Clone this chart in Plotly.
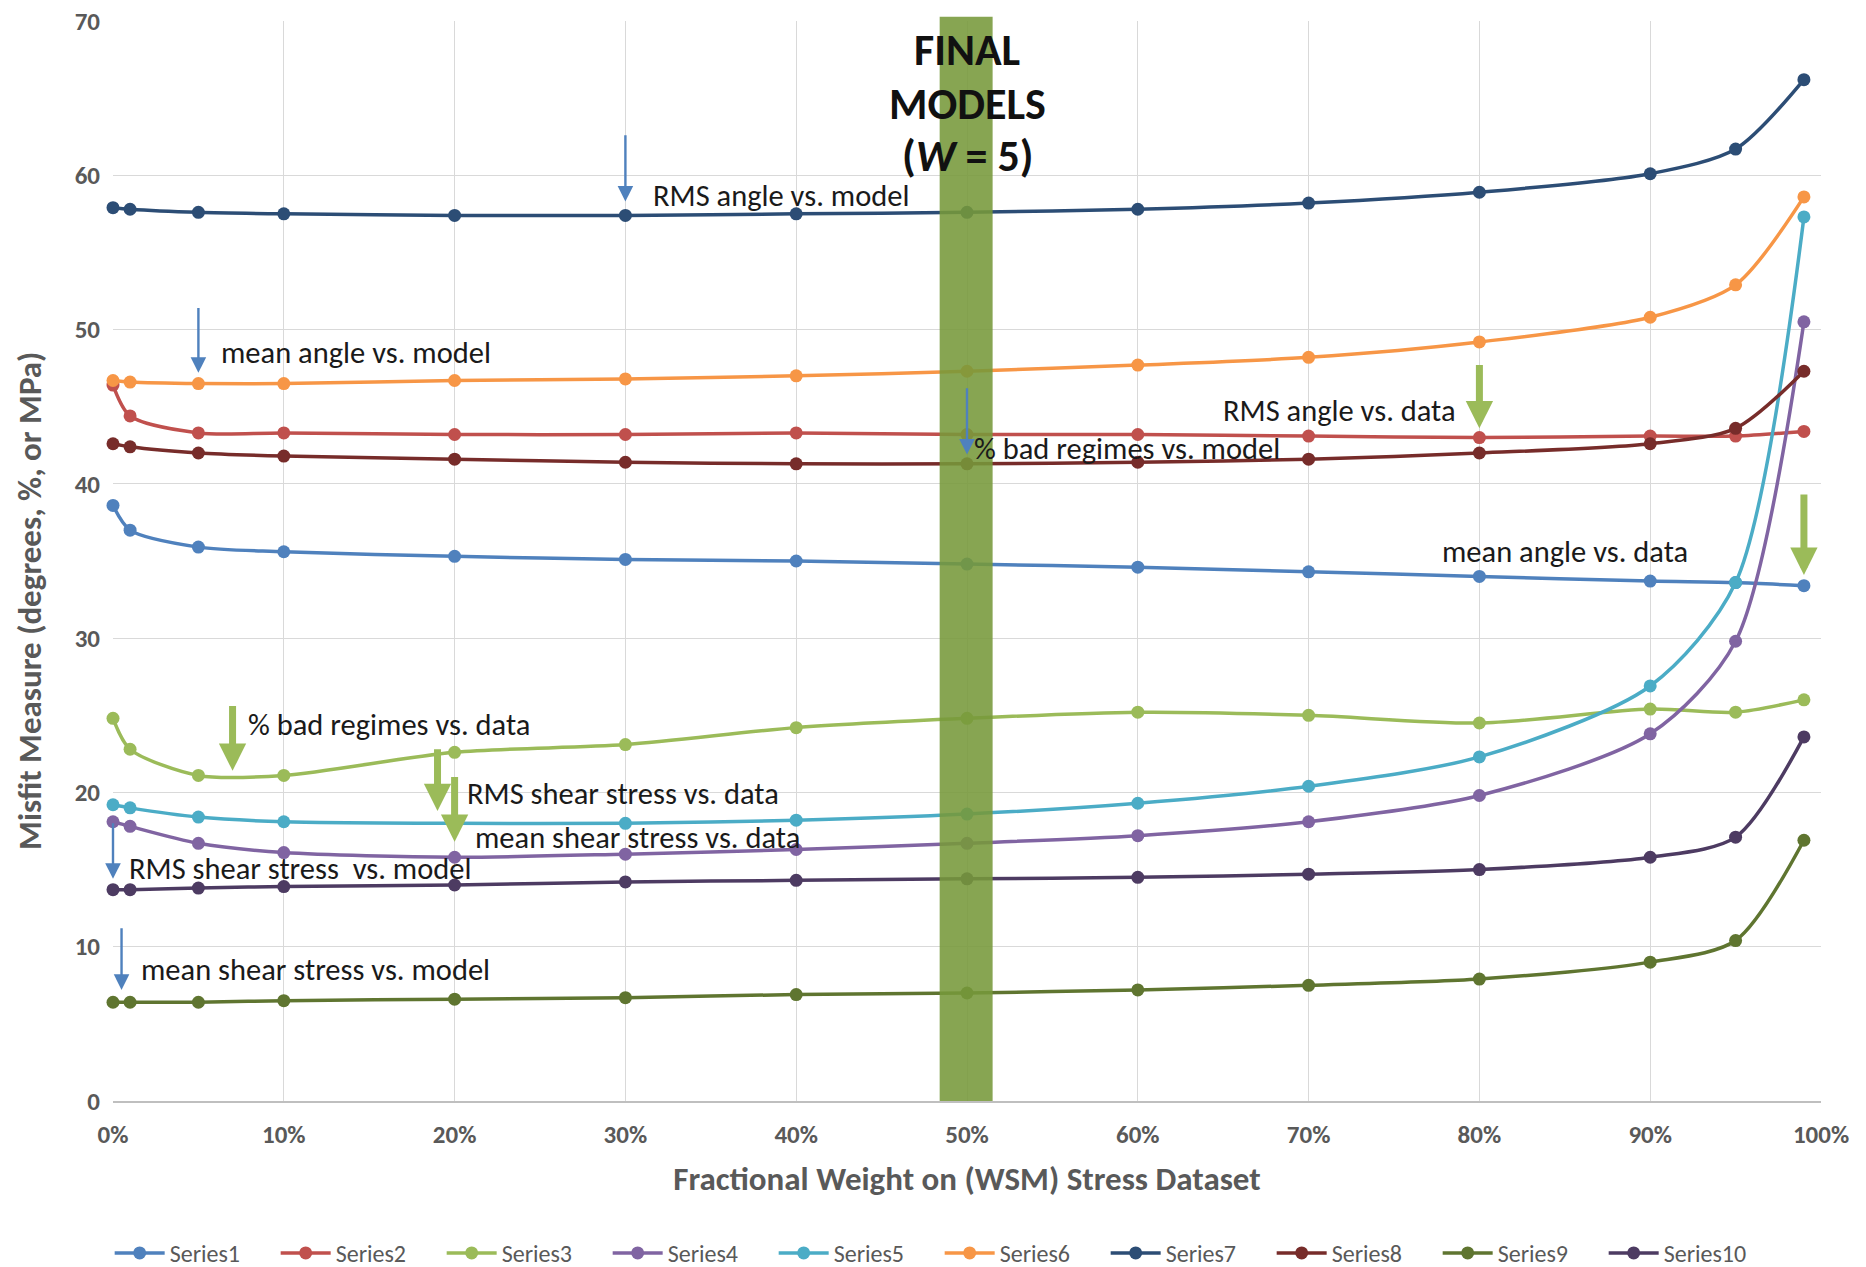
import plotly.graph_objects as go

# Fractional weight on the WSM stress dataset
weights = [0.0, 0.01, 0.05, 0.10, 0.20, 0.30, 0.40, 0.50, 0.60, 0.70, 0.80, 0.90, 0.95, 0.99]

series1 = [38.6, 37.0, 35.9, 35.6, 35.3, 35.1, 35.0, 34.8, 34.6, 34.3, 34.0, 33.7, 33.6, 33.4]
series2 = [46.4, 44.4, 43.3, 43.3, 43.2, 43.2, 43.3, 43.2, 43.2, 43.1, 43.0, 43.1, 43.1, 43.4]
series3 = [24.8, 22.8, 21.1, 21.1, 22.6, 23.1, 24.2, 24.8, 25.2, 25.0, 24.5, 25.4, 25.2, 26.0]
series4 = [18.1, 17.8, 16.7, 16.1, 15.8, 16.0, 16.3, 16.7, 17.2, 18.1, 19.8, 23.8, 29.8, 50.5]
series5 = [19.2, 19.0, 18.4, 18.1, 18.0, 18.0, 18.2, 18.6, 19.3, 20.4, 22.3, 26.9, 33.6, 57.3]
series6 = [46.7, 46.6, 46.5, 46.5, 46.7, 46.8, 47.0, 47.3, 47.7, 48.2, 49.2, 50.8, 52.9, 58.6]
series7 = [57.9, 57.8, 57.6, 57.5, 57.4, 57.4, 57.5, 57.6, 57.8, 58.2, 58.9, 60.1, 61.7, 66.2]
series8 = [42.6, 42.4, 42.0, 41.8, 41.6, 41.4, 41.3, 41.3, 41.4, 41.6, 42.0, 42.6, 43.6, 47.3]
series9 = [6.4, 6.4, 6.4, 6.5, 6.6, 6.7, 6.9, 7.0, 7.2, 7.5, 7.9, 9.0, 10.4, 16.9]
series10 = [13.7, 13.7, 13.8, 13.9, 14.0, 14.2, 14.3, 14.4, 14.5, 14.7, 15.0, 15.8, 17.1, 23.6]

series_names = ["Series1", "Series2", "Series3", "Series4", "Series5",
                "Series6", "Series7", "Series8", "Series9", "Series10"]
series_values = [series1, series2, series3, series4, series5,
                 series6, series7, series8, series9, series10]
series_colors = ["#4F81BD", "#C0504D", "#9BBB59", "#8064A2", "#4BACC6",
                 "#F79646", "#2C4D75", "#772C2A", "#5F7530", "#4D3B62"]

# Final-model window (W = 5)
final_band = [0.484, 0.515]

# Callout labels: (text, x, y) with left-anchored text
blue_labels = [
    ("RMS angle vs. model", 0.315, 58.7),
    ("mean angle vs. model", 0.062, 48.5),
    ("% bad regimes vs. model", 0.503, 42.3),
    ("RMS shear stress  vs. model", 0.008, 15.1),
    ("mean shear stress vs. model", 0.015, 8.5),
]
green_labels = [
    ("RMS angle vs. data", 0.649, 44.75),
    ("mean angle vs. data", 0.777, 35.6),
    ("% bad regimes vs. data", 0.078, 24.4),
    ("RMS shear stress vs. data", 0.206, 19.9),
    ("mean shear stress vs. data", 0.211, 17.1),
]
# Arrows: (x, tail y, tip y)
blue_arrows = [(0.30, 62.7, 58.3), (0.05, 51.5, 47.2), (0.50, 46.3, 41.9),
               (0.000, 18.1, 14.4), (0.005, 11.3, 7.2)]
green_arrows = [(0.80, 47.8, 43.6), (0.99, 39.4, 34.1), (0.07, 25.7, 21.4),
                (0.19, 22.9, 18.8), (0.20, 21.1, 16.8)]

FONT = "Carlito, Lato, sans-serif"
GREY = "#595959"

fig = go.Figure()
for name, vals, col in zip(series_names, series_values, series_colors):
    fig.add_trace(go.Scatter(
        x=weights, y=vals, name=name, mode="lines+markers",
        line=dict(color=col, width=3.5, shape="spline", smoothing=0.8),
        marker=dict(color=col, size=13),
        cliponaxis=False,
    ))

fig.add_shape(type="rect", xref="x", yref="paper",
              x0=final_band[0], x1=final_band[1], y0=0, y1=1.004,
              fillcolor="rgba(118,152,58,0.88)", line=dict(width=0), layer="above")

annotations = []
for i, line in enumerate(["FINAL", "MODELS", "(<i>W</i> = 5)"]):
    annotations.append(dict(
        x=0.5, y=[68.1, 64.6, 61.25][i], xref="x", yref="y", text=line,
        showarrow=False, xanchor="center", yanchor="middle",
        font=dict(family=FONT, size=44, color="#111111", weight="bold"),
    ))

for x, y0, y1 in blue_arrows:
    annotations.append(dict(
        x=x, y=y1, ax=x, ay=y0, xref="x", yref="y", axref="x", ayref="y",
        text="", showarrow=True, arrowhead=2, arrowsize=1.3, arrowwidth=2.4,
        arrowcolor="#4F81BD", standoff=0, startstandoff=0,
    ))
for x, y0, y1 in green_arrows:
    annotations.append(dict(
        x=x, y=y1, ax=x, ay=y0, xref="x", yref="y", axref="x", ayref="y",
        text="", showarrow=True, arrowhead=2, arrowsize=0.78, arrowwidth=7,
        arrowcolor="#9BBB59", standoff=0, startstandoff=0,
    ))
for txt, x, y in blue_labels + green_labels:
    annotations.append(dict(
        x=x, y=y, xref="x", yref="y", text=txt, showarrow=False,
        xanchor="left", yanchor="middle",
        font=dict(family=FONT, size=30.5, color="#1a1a1a"),
    ))

# Vertical axis title, placed as a rotated annotation
annotations.append(dict(
    x=-0.0486, y=0.463, xref="paper", yref="paper",
    text="Misfit Measure (degrees, %, or MPa)", textangle=-90,
    showarrow=False, xanchor="center", yanchor="middle",
    font=dict(family=FONT, size=33, color=GREY, weight="bold"),
))

fig.update_layout(
    width=1866, height=1267,
    margin=dict(l=113, r=45, t=21, b=166, autoexpand=False),
    paper_bgcolor="white", plot_bgcolor="white",
    font=dict(family=FONT, color=GREY),
    showlegend=True,
    legend=dict(orientation="h", x=0.484, xanchor="center", y=-0.141, yanchor="middle",
                font=dict(family=FONT, size=24, color=GREY),
                itemwidth=50, entrywidth=101, entrywidthmode="pixels",
                traceorder="normal"),
    annotations=annotations,
)
fig.update_xaxes(
    range=[0, 1], tickformat=".0%", dtick=0.1, tick0=0,
    showgrid=True, gridcolor="#d9d9d9", gridwidth=1,
    showline=True, linecolor="#bfbfbf", linewidth=1.5, zeroline=False,
    tickfont=dict(family=FONT, size=25, color=GREY, weight="bold"),
    ticklabelstandoff=10, automargin=False,
    title=dict(text="Fractional Weight on (WSM) Stress Dataset", standoff=18,
               font=dict(family=FONT, size=33, color=GREY, weight="bold")),
)
fig.update_yaxes(
    range=[0, 70], dtick=10,
    showgrid=True, gridcolor="#d9d9d9", gridwidth=1,
    showline=False, zeroline=False,
    tickfont=dict(family=FONT, size=25, color=GREY, weight="bold"),
    ticklabelstandoff=12, automargin=False,
)

fig.write_html("out.html")
